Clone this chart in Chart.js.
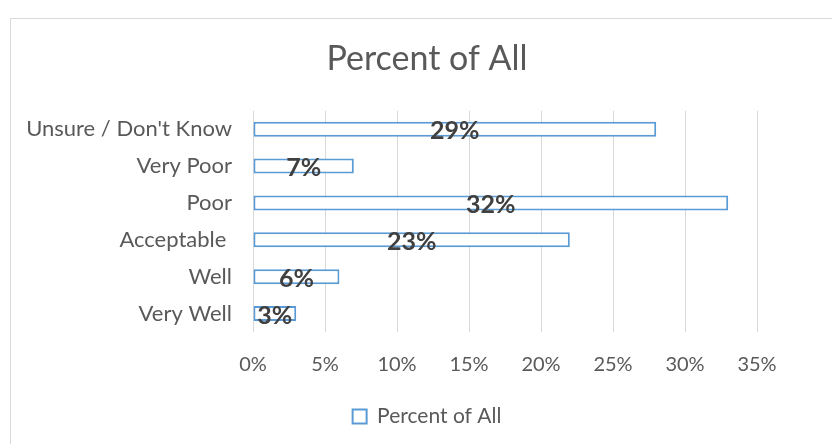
<!DOCTYPE html>
<html>
<head>
<meta charset="utf-8">
<script src="https://cdn.jsdelivr.net/npm/chart.js@4"></script>
<style>
    html, body { margin: 0; padding: 0; background: #ffffff; overflow: hidden; }
    #frame { position: absolute; left: 10px; top: 18px; width: 840px; height: 460px; border: 1px solid #d9d9d9; box-sizing: border-box; }
    #wrap { position: absolute; left: 0; top: 0; width: 854px; height: 444px; }
</style>
</head>
<body>
<div id="frame"></div>
<div id="wrap"><canvas id="chart" width="854" height="444"></canvas></div>
<script>
    const categories = ["Unsure / Don't Know", "Very Poor", "Poor", "Acceptable ", "Well", "Very Well"];
    const percentOfAll = [28, 7, 33, 22, 6, 3];
    const valueLabels = ["29%", "7%", "32%", "23%", "6%", "3%"];
    const xTicks = [0, 5, 10, 15, 20, 25, 30, 35];

    const FONT = "Lato, 'Open Sans', sans-serif";
    const TEXT = "#595959";

    // value labels sit centred on each bar, like Excel's "center" data labels
    const barLabels = {
        id: "barLabels",
        afterDatasetsDraw(chart) {
            const { ctx } = chart;
            const meta = chart.getDatasetMeta(0);
            ctx.save();
            ctx.font = `bold 25px ${FONT}`;
            ctx.fillStyle = "#404040";
            ctx.textAlign = "center";
            ctx.textBaseline = "middle";
            meta.data.forEach((bar, i) => {
                const { x, y, base } = bar.getProps(["x", "y", "base"], true);
                ctx.fillText(valueLabels[i], (x + base) / 2, y + 2);
            });
            ctx.restore();
        }
    };

    new Chart(document.getElementById("chart"), {
        type: "bar",
        data: {
            labels: categories,
            datasets: [
                {
                    label: "Percent of All",
                    data: percentOfAll,
                    backgroundColor: "#ffffff",
                    borderColor: "#5b9bd5",
                    borderWidth: 2,
                    borderSkipped: false,
                    categoryPercentage: 0.8,
                    barPercentage: 0.51
                }
            ]
        },
        options: {
            indexAxis: "y",
            responsive: false,
            animation: false,
            layout: {
                padding: { top: 39, right: 0, bottom: 7, left: 0 }
            },
            plugins: {
                title: {
                    display: true,
                    text: "Percent of All",
                    color: TEXT,
                    font: { family: FONT, size: 34, weight: "normal" },
                    padding: { top: 0, bottom: 31 }
                },
                legend: {
                    position: "bottom",
                    labels: {
                        color: TEXT,
                        font: { family: FONT, size: 21 },
                        boxWidth: 14,
                        boxHeight: 14,
                        padding: 8
                    }
                },
                tooltip: { enabled: false }
            },
            scales: {
                x: {
                    min: 0,
                    max: 35,
                    afterBuildTicks: (scale) => {
                        scale.ticks = xTicks.map((v) => ({ value: v }));
                    },
                    border: { display: false },
                    grid: { color: "#d9d9d9", drawTicks: false },
                    ticks: {
                        color: TEXT,
                        font: { family: FONT, size: 20 },
                        padding: 21,
                        callback: (v) => `${v}%`
                    }
                },
                y: {
                    border: { display: false },
                    grid: { display: false },
                    afterFit: (scale) => {
                        scale.width = 253;
                    },
                    ticks: {
                        color: TEXT,
                        font: { family: FONT, size: 22 },
                        padding: 13
                    }
                },
                // empty right axis keeps the plot narrower than the title/legend box
                yRight: {
                    axis: "y",
                    position: "right",
                    border: { display: false },
                    grid: { display: false },
                    ticks: { display: false },
                    afterFit: (scale) => {
                        scale.width = 97;
                    }
                }
            }
        },
        plugins: [barLabels]
    });
</script>
</body>
</html>
